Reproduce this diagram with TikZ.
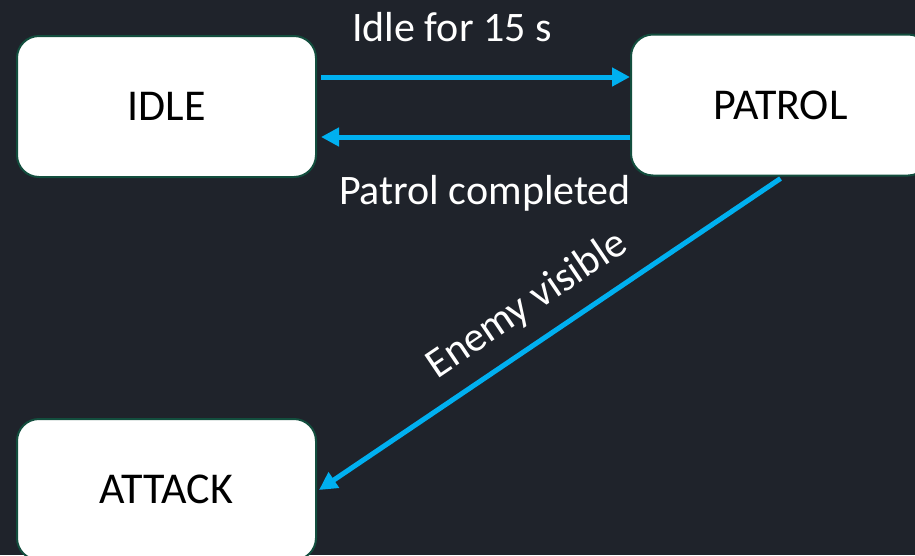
\documentclass[tikz,border=0pt]{standalone}
\usepackage{fontspec}
\setmainfont{Carlito}
\usetikzlibrary{arrows.meta}
\definecolor{bgdark}{HTML}{1F232B}
\definecolor{stateedge}{HTML}{134E3E}
\definecolor{flowblue}{HTML}{00B0F0}
\tikzset{
  statebox/.style={draw=stateedge, line width=2pt, fill=white, rounded corners=22pt,
    minimum width=299pt, minimum height=141pt, inner sep=0pt,
    font=\fontsize{44}{52}\selectfont, text=black},
  flow/.style={draw=flowblue, line width=5pt, -{Triangle[length=18pt,width=18pt]}},
  flowlabel/.style={font=\fontsize{42}{50}\selectfont, text=white, inner sep=0pt}
}
\begin{document}
\begin{tikzpicture}[x=1pt,y=-1pt]
  % canvas
  \fill[bgdark] (0,0) rectangle (915,555);
  \useasboundingbox (0,0) rectangle (915,555);
  \begin{scope}
    \clip (0,0) rectangle (915,555);
    % states
    \node[statebox] (idle)   at (166.5,106.5) {IDLE};
    \node[statebox] (patrol) at (780.5,105)   {PATROL};
    \node[statebox] (attack) at (166.5,489.5) {ATTACK};
    % transitions
    \draw[flow] ([xshift=4pt,yshift=29.5pt]idle.east) -- ([yshift=28pt]patrol.west);
    \draw[flow] ([yshift=-32pt]patrol.west) -- ([xshift=4pt,yshift=-30.5pt]idle.east);
    \draw[flow] ([yshift=-2pt]patrol.south) -- ([xshift=2pt,yshift=-0.5pt]attack.east);
    % transition labels
    \node[flowlabel] (lblidle)   at (452,27)  {Idle for 15 s};
    \node[flowlabel] (lbldone)   at (485,193) {Patrol completed};
    \node[flowlabel, rotate=34] (lblenemy) at (527,305) {Enemy visible};
  \end{scope}
\end{tikzpicture}
\end{document}
